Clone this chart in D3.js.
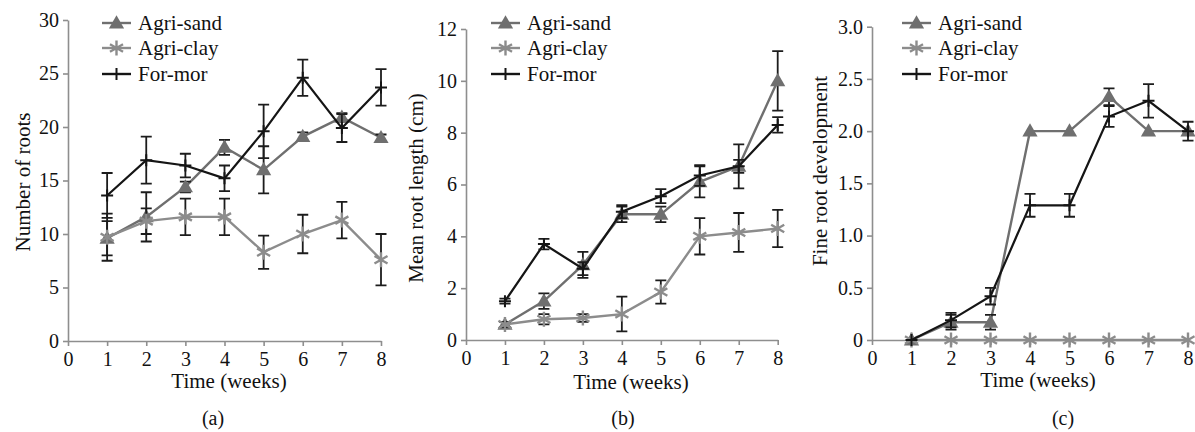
<!DOCTYPE html>
<html>
<head>
<meta charset="utf-8">
<script src="https://cdn.jsdelivr.net/npm/d3@7"></script>
<style>
  body { margin: 0; background: #fff; }
  svg { display: block; font-family: "Liberation Serif", "Times New Roman", serif; }
</style>
</head>
<body>
<svg id="chart" width="1195" height="432"></svg>
<script>
var weeks = [1, 2, 3, 4, 5, 6, 7, 8];
var seriesNames = ["Agri-sand", "Agri-clay", "For-mor"];

// (a) number of roots
var rootsSand    = [9.6, 11.6, 14.4, 18.1, 16.0, 19.1, 20.9, 19.0];
var rootsSandErr = [1.6, 2.3, 0.5, 0.7, 2.2, 0.4, 0.4, 0.3];
var rootsClay    = [9.7, 11.2, 11.6, 11.6, 8.3, 10.0, 11.3, 7.6];
var rootsClayErr = [2.2, 1.2, 1.7, 1.7, 1.55, 1.8, 1.7, 2.4];
var rootsFor     = [13.6, 16.9, 16.4, 15.2, 19.6, 24.6, 19.9, 23.7];
var rootsForErr  = [2.1, 2.2, 1.1, 1.2, 2.5, 1.7, 1.3, 1.7];

// (b) mean root length (cm)
var lengthSand    = [0.6, 1.5, 2.9, 4.85, 4.85, 6.1, 6.7, 10.0];
var lengthSandErr = [0.1, 0.3, 0.5, 0.3, 0.3, 0.6, 0.85, 1.15];
var lengthClay    = [0.6, 0.8, 0.85, 1.0, 1.85, 4.0, 4.15, 4.3];
var lengthClayErr = [0.1, 0.2, 0.15, 0.67, 0.45, 0.7, 0.75, 0.72];
var lengthFor     = [1.5, 3.7, 2.75, 4.95, 5.55, 6.35, 6.7, 8.3];
var lengthForErr  = [0.1, 0.2, 0.25, 0.25, 0.27, 0.4, 0.25, 0.3];

// (c) fine root development
var fineSand    = [0, 0.17, 0.17, 2.0, 2.0, 2.33, 2.0, 2.0];
var fineSandErr = [0, 0.07, 0.07, 0, 0, 0.08, 0, 0];
var fineClay    = [0, 0, 0, 0, 0, 0, 0, 0];
var fineClayErr = [0, 0, 0, 0, 0, 0, 0, 0];
var fineFor     = [0, 0.19, 0.42, 1.29, 1.29, 2.14, 2.29, 2.0];
var fineForErr  = [0, 0.07, 0.08, 0.11, 0.11, 0.1, 0.16, 0.09];

var xTicks = [0, 1, 2, 3, 4, 5, 6, 7, 8];
var rootsTicks = [0, 5, 10, 15, 20, 25, 30];
var lengthTicks = [0, 2, 4, 6, 8, 10, 12];
var fineTicks = [0, 0.5, 1.0, 1.5, 2.0, 2.5, 3.0];

var colSand = "#6f6f6f", colClay = "#8c8c8c", colFor = "#151515";
var axisCol = "#8e8e8e";
var serif = "'Liberation Serif', 'Times New Roman', serif";

var panels = [
  { x0: 68, x1: 381, yTop: 20, yBot: 341, yMax: 30, ticks: rootsTicks, fmt: d3.format("d"),
    label: "Number of roots", labelX: 23, labelY: 182, caption: "(a)", capX: 213, titleX: 229, titleY: 388,
    legX: 102, series: [[rootsSand, rootsSandErr], [rootsClay, rootsClayErr], [rootsFor, rootsForErr]] },
  { x0: 466, x1: 777.7, yTop: 29, yBot: 340, yMax: 12, ticks: lengthTicks, fmt: d3.format("d"),
    label: "Mean root length (cm)", labelX: 416, labelY: 188, caption: "(b)", capX: 623, titleX: 631, titleY: 389,
    legX: 491, series: [[lengthSand, lengthSandErr], [lengthClay, lengthClayErr], [lengthFor, lengthForErr]] },
  { x0: 872, x1: 1188, yTop: 26.7, yBot: 340, yMax: 3, ticks: fineTicks,
    fmt: function(d) { return d === 0 ? "0" : d3.format(".1f")(d); },
    label: "Fine root development", labelX: 820, labelY: 171, caption: "(c)", capX: 1063, titleX: 1038, titleY: 387,
    legX: 902, series: [[fineSand, fineSandErr], [fineClay, fineClayErr], [fineFor, fineForErr]] }
];

var svg = d3.select("#chart");

function drawMarker(g, kind, cx, cy) {
  if (kind === 0) {
    g.append("path")
      .attr("d", d3.symbol().type(d3.symbolTriangle).size(100)())
      .attr("transform", "translate(" + cx + "," + (cy + 1) + ")")
      .attr("fill", colSand);
  } else if (kind === 1) {
    var r = 7.5;
    var p = "M0," + (-r) + "L0," + r +
      "M" + (-r * 0.87) + "," + (-r * 0.5) + "L" + (r * 0.87) + "," + (r * 0.5) +
      "M" + (-r * 0.87) + "," + (r * 0.5) + "L" + (r * 0.87) + "," + (-r * 0.5);
    g.append("path").attr("d", p)
      .attr("transform", "translate(" + cx + "," + cy + ")")
      .attr("stroke", colClay).attr("stroke-width", 2.4).attr("fill", "none");
  } else {
    var s = 6;
    g.append("path").attr("d", "M" + (-s) + ",0L" + s + ",0M0," + (-s) + "L0," + s)
      .attr("transform", "translate(" + cx + "," + cy + ")")
      .attr("stroke", colFor).attr("stroke-width", 2).attr("fill", "none");
  }
}

var colors = [colSand, colClay, colFor];

panels.forEach(function(p) {
  var x = d3.scaleLinear().domain([0, 8]).range([p.x0, p.x1]);
  var y = d3.scaleLinear().domain([0, p.yMax]).range([p.yBot, p.yTop]);
  var g = svg.append("g");

  var xAxis = g.append("g").attr("transform", "translate(0," + p.yBot + ")")
    .call(d3.axisBottom(x).tickValues(xTicks).tickSize(5).tickSizeOuter(0).tickPadding(6).tickFormat(d3.format("d")));
  var yAxis = g.append("g").attr("transform", "translate(" + p.x0 + ",0)")
    .call(d3.axisLeft(y).tickValues(p.ticks).tickSize(5).tickSizeOuter(0).tickPadding(4).tickFormat(p.fmt));
  [xAxis, yAxis].forEach(function(a) {
    a.attr("font-family", serif).attr("font-size", 20);
    a.select(".domain").attr("stroke", axisCol).attr("stroke-width", 1.6);
    a.selectAll(".tick line").attr("stroke", axisCol).attr("stroke-width", 1.6);
    a.selectAll("text").attr("fill", "#111");
  });

  // series lines, error bars, markers
  p.series.forEach(function(s, k) {
    var vals = s[0], errs = s[1];
    var pts = weeks.map(function(w, i) { return { w: w, v: vals[i], e: errs[i] }; });
    var sg = g.append("g");
    sg.append("path").datum(pts)
      .attr("d", d3.line().x(function(d) { return x(d.w); }).y(function(d) { return y(d.v); }))
      .attr("fill", "none").attr("stroke", colors[k]).attr("stroke-width", k === 2 ? 2.2 : 2.4);
    pts.forEach(function(d) {
      if (d.e > 0) {
        var cx = x(d.w), t = y(d.v + d.e), b = y(d.v - d.e);
        sg.append("path")
          .attr("d", "M" + cx + "," + t + "L" + cx + "," + b +
            "M" + (cx - 5.5) + "," + t + "L" + (cx + 5.5) + "," + t +
            "M" + (cx - 5.5) + "," + b + "L" + (cx + 5.5) + "," + b)
          .attr("stroke", "#1c1c1c").attr("stroke-width", 1.8).attr("fill", "none");
      }
      drawMarker(sg, k, x(d.w), y(d.v));
    });
  });

  // legend
  seriesNames.forEach(function(name, k) {
    var ly = [23, 48, 74][k];
    g.append("line").attr("x1", p.legX).attr("x2", p.legX + 29).attr("y1", ly).attr("y2", ly)
      .attr("stroke", colors[k]).attr("stroke-width", 2.4);
    drawMarker(g, k, p.legX + 14.5, ly);
    g.append("text").attr("x", p.legX + 36).attr("y", ly + 7)
      .attr("font-family", serif).attr("font-size", 21).attr("fill", "#111").text(name);
  });

  g.append("text").attr("transform", "translate(" + p.labelX + "," + p.labelY + ") rotate(-90)")
    .attr("text-anchor", "middle").attr("dy", "0.35em")
    .attr("font-family", serif).attr("font-size", 21).attr("fill", "#111")
    .text(p.label);
  g.append("text").attr("x", p.titleX).attr("y", p.titleY).attr("text-anchor", "middle")
    .attr("font-family", serif).attr("font-size", 21).attr("fill", "#111").text("Time (weeks)");
  g.append("text").attr("x", p.capX).attr("y", 425).attr("text-anchor", "middle")
    .attr("font-family", serif).attr("font-size", 20).attr("fill", "#111").text(p.caption);
});
</script>
</body>
</html>
